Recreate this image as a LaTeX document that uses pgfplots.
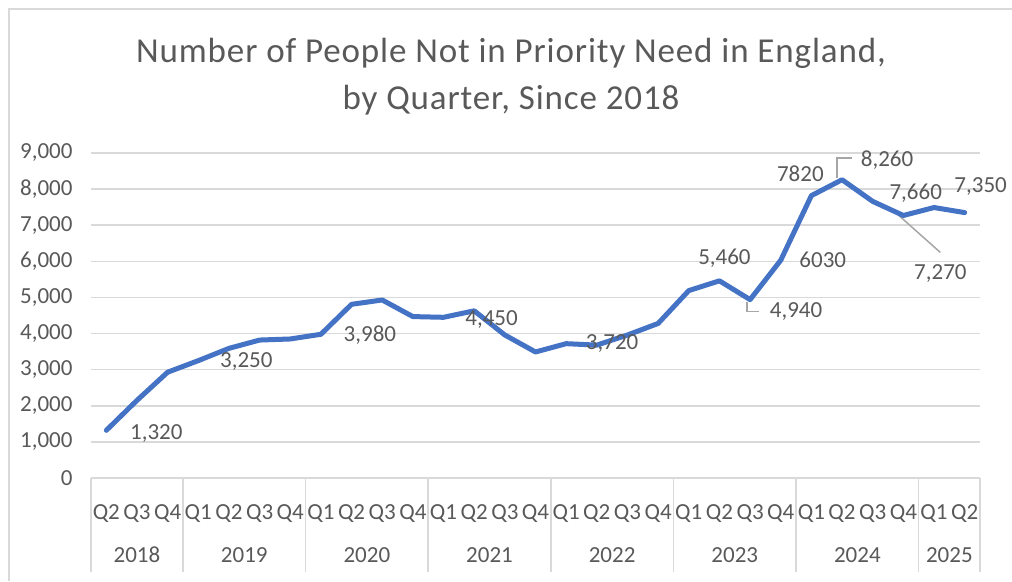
\documentclass[border=0pt]{standalone}
\usepackage{pgfplots}
\pgfplotsset{compat=1.18}
\usepackage{pgfplotstable}
\usepackage{fontspec}
\setmainfont{Carlito}
\newfontfamily\titlefont[LetterSpace=2.5]{Carlito}

\definecolor{linec}{HTML}{4472C4}
\definecolor{txt}{HTML}{595959}
\definecolor{gridc}{HTML}{D9D9D9}
\definecolor{leader}{HTML}{A6A6A6}

% quarterly counts, 2018 Q2 .. 2025 Q2; label offsets in pt
\pgfplotstableread{
x  y    lbl   dx  dy
0  1320 1,320 50  -3
1  2150 {}    0   0
2  2930 {}    0   0
3  3250 3,250 48  -1
4  3590 {}    0   0
5  3820 {}    0   0
6  3850 {}    0   0
7  3980 3,980 49  -1
8  4810 {}    0   0
9  4930 {}    0   0
10 4470 {}    0   0
11 4450 4,450 48  -2
12 4630 {}    0   0
13 3960 {}    0   0
14 3490 {}    0   0
15 3720 3,720 46  0
16 3680 {}    0   0
17 3960 {}    0   0
18 4280 {}    0   0
19 5190 {}    0   0
20 5460 5,460 5   23
21 4940 4,940 46  -12
22 6030 6030  42  0
23 7820 7820  -11 22
24 8260 8,260 45  20
25 7660 7,660 43  8
26 7270 7,270 37  -58
27 7490 {}    0   0
28 7350 7,350 16  26
}\data

\begin{document}
\begin{tikzpicture}[x=1pt,y=1pt]
\path[use as bounding box] (0,0) rectangle (1012,581);
\draw[gridc, line width=1.5pt] (9,0) -- (9,572) -- (1012,572);

\node[anchor=base, text=txt, font=\titlefont\fontsize{35}{42}\selectfont] at (511,518)
  {Number of People Not in Priority Need in England,};
\node[anchor=base, text=txt, font=\titlefont\fontsize{35}{42}\selectfont] at (511,471)
  {by Quarter, Since 2018};

\begin{axis}[
  at={(91pt,103pt)}, anchor=south west,
  width=889pt, height=325pt, scale only axis,
  xmin=-0.5, xmax=28.5, ymin=0, ymax=9000,
  clip=false,
  axis line style={draw=none},
  major tick length=0pt,
  ymajorgrids, grid style={gridc, line width=1.5pt},
  ytick={0,1000,...,9000},
  yticklabel style={anchor=east, xshift=-15pt},
  xtick={0,...,28},
  xticklabels={Q2,Q3,Q4,Q1,Q2,Q3,Q4,Q1,Q2,Q3,Q4,Q1,Q2,Q3,Q4,Q1,Q2,Q3,Q4,Q1,Q2,Q3,Q4,Q1,Q2,Q3,Q4,Q1,Q2},
  xticklabel style={anchor=base, yshift=-41pt},
  ticklabel style={font=\fontsize{23}{27}\selectfont, text=txt},
  /pgf/number format/assume math mode=true,
  /pgf/number format/1000 sep={,},
]
% year group separators and labels
\foreach \b in {-0.5,2.5,6.5,10.5,14.5,18.5,22.5,26.5,28.5}{
  \edef\tmp{\noexpand\draw[gridc, line width=1.5pt] (axis cs:\b,0) -- ([yshift=-94pt]axis cs:\b,0);}\tmp
}
\foreach \c/\yr in {1/2018,4.5/2019,8.5/2020,12.5/2021,16.5/2022,20.5/2023,24.5/2024,27.5/2025}{
  \edef\tmp{\noexpand\node[anchor=base, text=txt, font=\noexpand\fontsize{23}{27}\noexpand\selectfont] at ([yshift=-84.5pt]axis cs:\c,0) {\yr};}\tmp
}
% leader lines
\draw[leader, line width=1.5pt] ([shift={(-3pt,-2pt)}]axis cs:21,4940) -- ([shift={(-3pt,-12pt)}]axis cs:21,4940) -- ([shift={(9pt,-12pt)}]axis cs:21,4940);
\draw[leader, line width=1.5pt] ([shift={(-5pt,2pt)}]axis cs:24,8260) -- ([shift={(-5pt,21.5pt)}]axis cs:24,8260) -- ([shift={(9.5pt,21.5pt)}]axis cs:24,8260);
\draw[leader, line width=1.5pt] ([shift={(-4.5pt,0pt)}]axis cs:26,7270) -- ([shift={(37pt,-37pt)}]axis cs:26,7270);

\addplot[linec, line width=5pt, line join=round, line cap=round,
  point meta=explicit symbolic,
  visualization depends on={\thisrow{dx}\as\dx},
  visualization depends on={\thisrow{dy}\as\dy},
  nodes near coords,
  nodes near coords style={anchor=center, xshift=\dx pt, yshift=\dy pt,
    text=txt, font=\fontsize{23}{27}\selectfont},
] table[x=x, y=y, meta=lbl] {\data};
\end{axis}
\end{tikzpicture}
\end{document}
